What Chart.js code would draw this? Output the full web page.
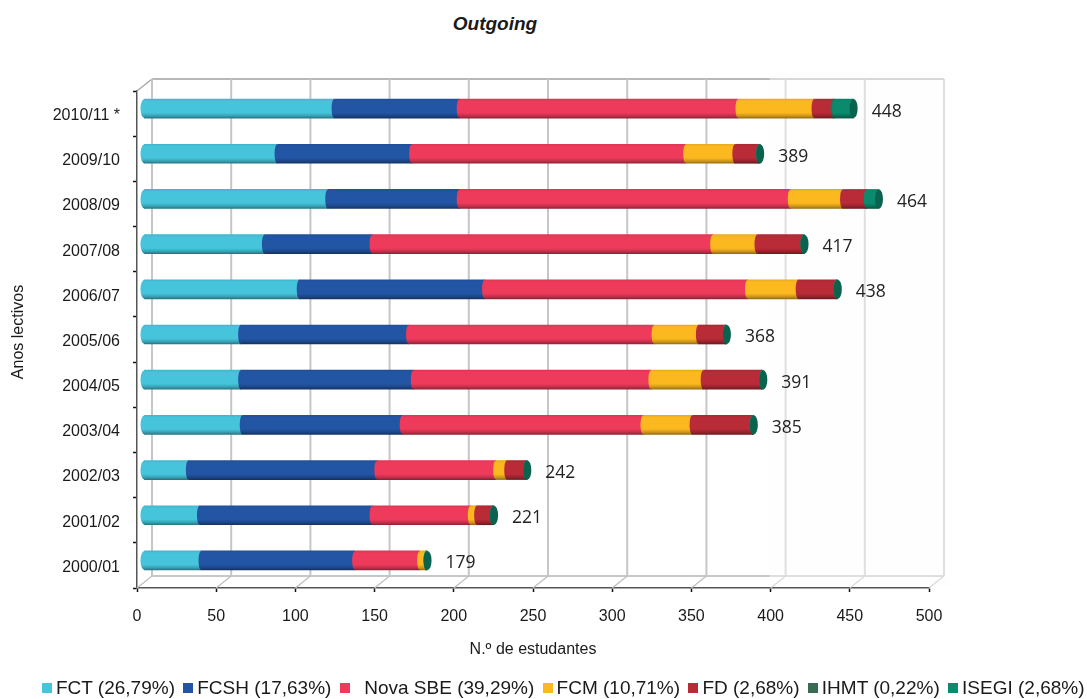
<!DOCTYPE html>
<html>
<head>
<meta charset="utf-8">
<title>Outgoing</title>
<script src="https://cdn.jsdelivr.net/npm/chart.js@4"></script>
<style>
  html, body { margin: 0; padding: 0; background: #fff; }
  body { position: relative; width: 1087px; height: 699px; overflow: hidden; font-family: "Liberation Sans", Arial, sans-serif; color: #1a1a1a; }
  canvas { position: absolute; left: 0; top: 0; }
  #heading { position: absolute; left: 395px; width: 200px; top: 13px; text-align: center; font: italic bold 19px "Liberation Sans", Arial, sans-serif; }
  #legendBox { position: absolute; left: 42px; top: 677px; display: flex; gap: 8.3px; font-size: 19px; line-height: 22px; white-space: pre; }
  #legendBox span.item { display: flex; align-items: center; }
  #legendBox i { width: 10px; height: 10px; margin-right: 4px; margin-top: -1px; display: block; }
</style>
</head>
<body>
<div id="heading">Outgoing</div>
<canvas id="chart" width="1087" height="699"></canvas>
<div id="legendBox"></div>
<script>
const years = ["2010/11 *", "2009/10", "2008/09", "2007/08", "2006/07", "2005/06", "2004/05", "2003/04", "2002/03", "2001/02", "2000/01"];
const totals = [448, 389, 464, 417, 438, 368, 391, 385, 242, 221, 179];

const fct   = [120, 84, 116, 76, 98, 61, 61, 62, 28, 35, 36];
const fcsh  = [79, 85, 83, 68, 117, 106, 109, 101, 119, 109, 97];
const sbe   = [176, 173, 209, 215, 166, 155, 150, 152, 75, 62, 41];
const fcm   = [48, 31, 33, 28, 32, 28, 33, 31, 7, 4, 4];
const fd    = [12, 15, 15, 29, 24, 17, 37, 38, 12, 10, 0];
const ihmt  = [1, 0, 0, 0, 0, 0, 0, 0, 0, 0, 0];
const isegi = [12, 1, 8, 1, 1, 1, 1, 1, 1, 1, 1];

const seriesNames = ["FCT (26,79%)", "FCSH (17,63%)", "  Nova SBE (39,29%)", "FCM (10,71%)", "FD (2,68%)", "IHMT (0,22%)", "ISEGI (2,68%)"];
const seriesValues = [fct, fcsh, sbe, fcm, fd, ihmt, isegi];
const seriesColors = ["#45c4dc", "#2355a5", "#ee3a5b", "#fbb81f", "#b82b37", "#386a54", "#0c8a6d"];
const xTicks = [0, 50, 100, 150, 200, 250, 300, 350, 400, 450, 500];

// fake 3D: the back wall sits up and to the right, bars stand half way in
const DEPTH_X = 15, DEPTH_Y = 12;
const BAR_DX = 7, BAR_DY = -5;
const BAR_H = 19, CAP_RX = 4, SEAM_RX = 2.5;

function shade(hex, k) {
  const n = parseInt(hex.slice(1), 16);
  const c = [n >> 16, (n >> 8) & 255, n & 255].map(v => Math.round(v * k));
  return `rgb(${c[0]},${c[1]},${c[2]})`;
}

function tube(ctx, color, y) {
  const g = ctx.createLinearGradient(0, y - BAR_H / 2, 0, y + BAR_H / 2);
  g.addColorStop(0, shade(color, 0.93));
  g.addColorStop(0.12, color);
  g.addColorStop(0.72, color);
  g.addColorStop(0.88, shade(color, 0.82));
  g.addColorStop(1, shade(color, 0.6));
  return g;
}

const frame3d = {
  id: "frame3d",
  beforeDatasetsDraw(chart) {
    const { ctx, scales: { x, y } } = chart;
    const top = y.top, bot = y.bottom;
    const line = (x1, y1, x2, y2, col, w) => {
      ctx.strokeStyle = col;
      ctx.lineWidth = w;
      ctx.beginPath();
      ctx.moveTo(x1, y1);
      ctx.lineTo(x2, y2);
      ctx.stroke();
    };
    ctx.save();
    line(x.getPixelForValue(0), top, x.getPixelForValue(0) + DEPTH_X, top - DEPTH_Y, "#a8a8ac", 1.5);
    line(x.getPixelForValue(0) + DEPTH_X, top - DEPTH_Y, x.getPixelForValue(500) + DEPTH_X, top - DEPTH_Y, "#a0a0a4", 1.5);
    line(x.getPixelForValue(0) + DEPTH_X, bot - DEPTH_Y, x.getPixelForValue(500) + DEPTH_X, bot - DEPTH_Y, "#b4b4b8", 1.5);
    xTicks.forEach(v => {
      const px = x.getPixelForValue(v);
      line(px + DEPTH_X, top - DEPTH_Y, px + DEPTH_X, bot - DEPTH_Y, "#c6c6ca", 2);
      line(px, bot, px + DEPTH_X, bot - DEPTH_Y, "#bdbdc0", 1.2);
    });
    // washed out strip on the far right of the plot
    ctx.fillStyle = "rgba(252,252,253,0.45)";
    ctx.fillRect(x.getPixelForValue(400) - 1, top - 18, 181, bot - top + 17);

    ctx.translate(BAR_DX, BAR_DY);
  },
  afterDatasetsDraw(chart) {
    const { ctx, scales: { x } } = chart;
    const metas = seriesValues.map((_, i) => chart.getDatasetMeta(i));

    years.forEach((_, idx) => {
      let last = null;
      metas.forEach((meta, i) => {
        if (!seriesValues[i][idx]) return;
        const el = meta.data[idx];
        ctx.fillStyle = tube(ctx, seriesColors[i], el.y);
        ctx.beginPath();
        ctx.ellipse(el.base, el.y, i === 0 ? CAP_RX : SEAM_RX, BAR_H / 2, 0, 0, Math.PI * 2);
        ctx.fill();
        last = { el, i };
      });
      // right end of the tube, seen from the side
      ctx.fillStyle = shade(seriesColors[last.i], 0.72);
      ctx.beginPath();
      ctx.ellipse(last.el.x, last.el.y, CAP_RX, BAR_H / 2, 0, 0, Math.PI * 2);
      ctx.fill();
    });
    ctx.restore();

    // totals next to each bar
    ctx.save();
    ctx.fillStyle = "#222";
    ctx.font = '17.5px "Open Sans", sans-serif';
    ctx.textAlign = "left";
    ctx.textBaseline = "middle";
    totals.forEach((t, idx) => {
      const el = metas[0].data[idx];
      ctx.fillText(String(t), x.getPixelForValue(t) + BAR_DX + CAP_RX + 14, el.y + BAR_DY + 3);
    });
    ctx.restore();

    // vertical axis name
    ctx.save();
    ctx.fillStyle = "#1a1a1a";
    ctx.font = '16px "Liberation Sans", Arial, sans-serif';
    ctx.textAlign = "center";
    ctx.textBaseline = "middle";
    ctx.translate(19, 332);
    ctx.rotate(-Math.PI / 2);
    ctx.fillText("Anos lectivos", 0, 0);
    ctx.restore();
  }
};

new Chart(document.getElementById("chart"), {
  type: "bar",
  data: {
    labels: years,
    datasets: seriesValues.map((vals, i) => ({
      label: seriesNames[i].trim(),
      data: vals,
      barThickness: BAR_H,
      backgroundColor: c => {
        const py = c.chart.scales.y ? c.chart.scales.y.getPixelForValue(c.dataIndex) : NaN;
        return Number.isFinite(py) ? tube(c.chart.ctx, seriesColors[i], py) : seriesColors[i];
      }
    }))
  },
  options: {
    indexAxis: "y",
    responsive: false,
    animation: false,
    layout: { padding: { left: 0, right: 158, top: 91, bottom: 40 } },
    plugins: {
      legend: { display: false },
      title: { display: false },
      tooltip: { enabled: false }
    },
    scales: {
      x: {
        stacked: true,
        min: 0,
        max: 500,
        grid: { drawOnChartArea: false, tickLength: 4, tickColor: "#111", tickWidth: 1.5 },
        border: { color: "#555", width: 1.5 },
        ticks: { stepSize: 50, color: "#1a1a1a", padding: 15, maxRotation: 0, font: { family: '"Liberation Sans"', size: 16 } },
        title: {
          display: true,
          text: "N.º de estudantes",
          color: "#1a1a1a",
          padding: { top: 11, bottom: 0 },
          font: { family: '"Liberation Sans"', size: 16 }
        },
        afterFit(scale) { scale.height = 71; }
      },
      y: {
        stacked: true,
        grid: { offset: true, drawOnChartArea: false, tickLength: 4, tickColor: "#111", tickWidth: 1.5 },
        border: { color: "#555", width: 1.5 },
        ticks: { color: "#1a1a1a", padding: 13, labelOffset: 2, font: { family: '"Liberation Sans"', size: 16 } },
        afterFit(scale) { scale.width = 137; }
      }
    }
  },
  plugins: [frame3d]
});

// legend strip below the plot
const legendBox = document.getElementById("legendBox");
seriesNames.forEach((name, i) => {
  const item = document.createElement("span");
  item.className = "item";
  item.innerHTML = `<i style="background:${seriesColors[i]}"></i>${name}`;
  legendBox.appendChild(item);
});
</script>
</body>
</html>
